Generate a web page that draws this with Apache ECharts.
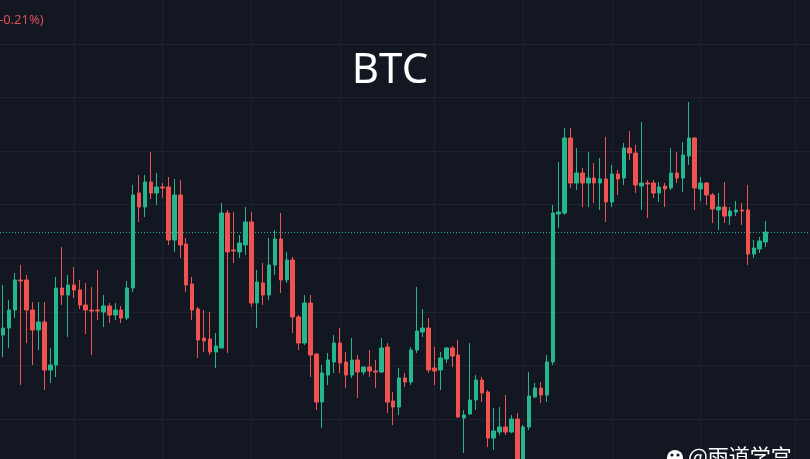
<!DOCTYPE html>
<html><head><meta charset="utf-8">
<script src="https://cdn.jsdelivr.net/npm/echarts@6/dist/echarts.min.js"></script>
<style>html,body{margin:0;padding:0;background:#131722;overflow:hidden}#c{width:810px;height:459px}</style>
</head><body><div id="c"></div>
<script>
// Candle values (unlabelled price axis, arbitrary units)
const opens = [
165,172,190,220,220,190,170,178,130,135,
212,205,215,210,195,190,190,188,194,185,
190,182,212,307,293,318,307,313,313,260,
305,256,216,191,162,161,148,152,287,250,
248,255,278,197,217,205,235,261,220,240,
183,157,197,146,98,125,138,157,138,125,
140,128,133,129,128,153,99,93,122,118,
150,168,172,132,130,141,152,145,82,86,
100,120,108,62,68,73,68,81,32,73,
103,112,105,138,286,287,362,317,327,317,
322,317,321,298,326,322,352,347,314,317,
317,307,314,312,327,322,344,362,311,317,
305,290,293,284,288,290,290,246,251,258];
const closes = [
172,190,220,219,190,170,178,130,135,212,
205,215,210,195,190,189,189,194,185,190,
182,212,305,293,318,307,313,312,260,305,
255,215,190,160,159,148,154,287,248,249,
257,278,197,218,205,235,261,220,240,183,
157,197,145,98,127,140,157,137,125,140,
128,133,129,128,152,98,93,122,118,150,
169,172,130,129,142,152,144,83,85,100,
120,107,62,69,73,68,81,30,73,104,
112,105,138,287,288,362,317,327,317,322,
317,321,298,326,321,352,347,315,317,316,
307,313,311,327,322,345,362,312,317,305,
291,293,284,289,290,289,246,252,259,268];
const lows = [
143,152,182,115,157,135,150,110,117,123,
195,163,202,191,166,145,180,173,177,180,
177,180,208,278,283,301,295,302,255,248,
242,208,180,142,148,145,132,152,147,237,
242,245,193,172,195,200,225,207,217,167,
150,155,123,90,72,115,127,127,112,122,
102,125,123,112,127,87,75,85,113,115,
147,163,127,115,110,137,133,82,47,85,
90,98,53,50,65,65,67,22,25,70,
102,97,98,135,272,285,312,310,293,293,
297,290,278,293,305,315,340,307,290,282,
302,298,293,310,317,308,335,290,299,295,
277,270,277,275,284,275,235,242,247,253];
const highs = [
215,200,227,235,225,198,198,198,152,223,
253,225,233,220,217,213,230,205,197,197,
194,219,315,325,325,348,327,317,323,321,
320,262,223,193,190,188,167,297,290,288,
265,293,288,230,237,262,270,287,248,243,
185,205,205,147,135,147,165,172,148,162,
145,133,150,140,162,157,108,132,127,153,
213,191,182,153,148,153,154,160,90,157,
125,123,110,92,93,105,85,87,75,128,
117,118,145,295,338,372,372,352,332,348,
337,342,363,335,330,357,369,355,378,320,
320,318,317,352,348,358,398,363,323,318,
307,307,318,293,299,297,315,260,263,279];
// candle slots where vertical (time) grid lines fall
const timeBreaks = [12,27,42,57,73,88,103,118,134];
const emptySlots = ['e1','e2','e3','e4','e5','e6','e7'];
const titleText = 'BTC';
const changeText = '-0.21%)';
const watermarkText = '@雨道学宫';

const candleLabels = opens.map((_, i) => 'k' + (i + 1));
const slots = candleLabels.concat(emptySlots);
const ohlc = opens.map((o, i) => [o, closes[i], lows[i], highs[i]]);
const lastClose = closes[closes.length - 1];

const UP = '#25b68d', DOWN = '#ef5350', GRID = '#1e222d', BG = '#131722';

const chart = echarts.init(document.getElementById('c'));
chart.setOption({
  backgroundColor: BG,
  animation: false,
  grid: [
    {left: 0, right: 0, top: 0, bottom: 0},
    {left: 0, right: 0, top: 44, bottom: 40}
  ],
  xAxis: [
    {type: 'category', gridIndex: 0, data: slots, boundaryGap: true, show: false},
    {type: 'value', gridIndex: 1, min: 0, max: 1, show: false}
  ],
  yAxis: [
    {type: 'value', gridIndex: 0, min: 41, max: 500, show: false},
    {type: 'value', gridIndex: 1, min: 0, max: 7, interval: 1,
     axisLine: {show: false}, axisTick: {show: false}, axisLabel: {show: false},
     splitLine: {show: true, lineStyle: {color: GRID, width: 1}}}
  ],
  series: [
    {type: 'line', xAxisIndex: 0, yAxisIndex: 0, data: [], z: 1, silent: true,
     markLine: {symbol: 'none', silent: true, animation: false, label: {show: false},
       lineStyle: {color: GRID, type: 'solid', width: 1},
       data: timeBreaks.map(i => ({xAxis: i}))}},
    {type: 'candlestick', xAxisIndex: 0, yAxisIndex: 0, data: ohlc, z: 5,
     barWidth: 4,
     itemStyle: {color: UP, color0: DOWN, borderColor: UP, borderColor0: DOWN, borderWidth: 1},
     markLine: {symbol: 'none', silent: true, animation: false, label: {show: false},
       lineStyle: {color: UP, type: [1, 2], width: 1},
       data: [{yAxis: lastClose}]}}
  ],
  graphic: [
    {type: 'text', z: 100, style: {text: titleText, x: 390, y: 71, textAlign: 'center',
      textVerticalAlign: 'middle', verticalAlign: 'middle', fill: '#ffffff', font: '42px "Noto Sans"'}},
    {type: 'text', z: 100, style: {text: changeText, x: -1, y: 20, textAlign: 'left',
      textVerticalAlign: 'middle', verticalAlign: 'middle', fill: '#d9505c', font: '13px "Noto Sans"'}},
    {type: 'circle', z: 100, shape: {cx: 675, cy: 458, r: 8}, style: {fill: '#ffffff'}},
    {type: 'circle', z: 101, shape: {cx: 672, cy: 455, r: 1.6}, style: {fill: BG}},
    {type: 'circle', z: 101, shape: {cx: 678, cy: 455, r: 1.6}, style: {fill: BG}},
    {type: 'text', z: 100, style: {text: watermarkText, x: 688, y: 446, textAlign: 'left',
      textVerticalAlign: 'top', verticalAlign: 'top', fill: '#ffffff', font: '21px "Noto Sans CJK SC"'}}
  ]
});
</script>
</body></html>
